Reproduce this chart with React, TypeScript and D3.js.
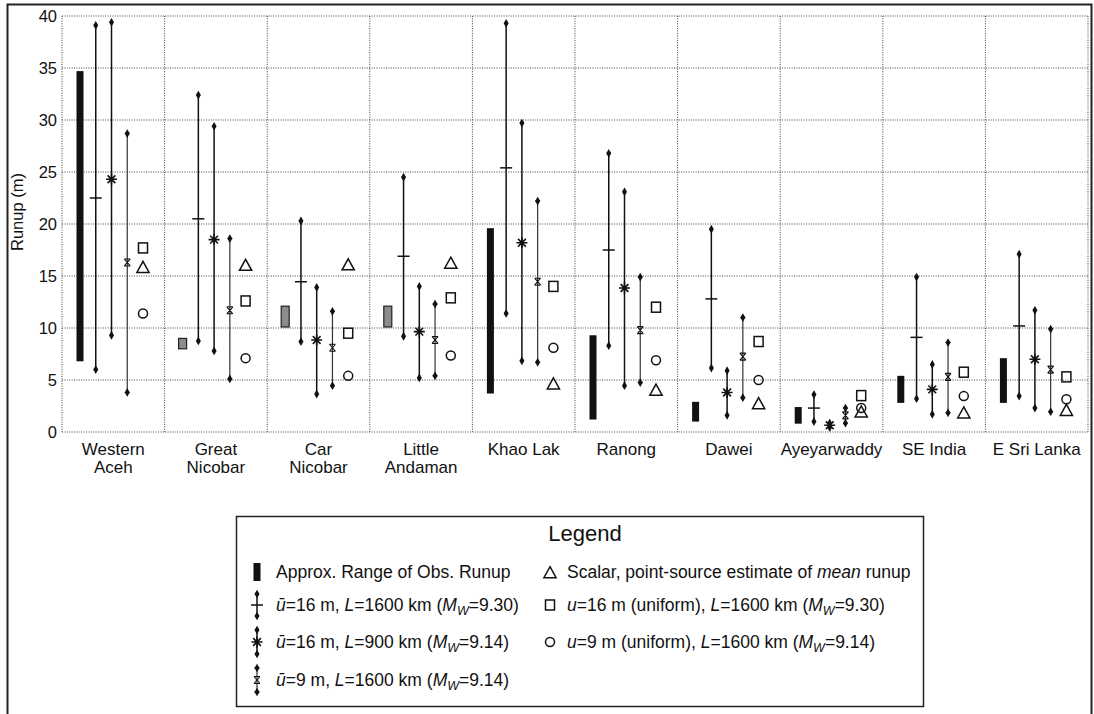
import React from 'react';
import * as d3 from 'd3';

const CATEGORIES = [
  'Western Aceh', 'Great Nicobar', 'Car Nicobar', 'Little Andaman', 'Khao Lak',
  'Ranong', 'Dawei', 'Ayeyarwaddy', 'SE India', 'E Sri Lanka',
];
const LABEL_LINES = [
  ['Western', 'Aceh'], ['Great', 'Nicobar'], ['Car', 'Nicobar'], ['Little', 'Andaman'],
  ['Khao Lak'], ['Ranong'], ['Dawei'], ['Ayeyarwaddy'], ['SE India'], ['E Sri Lanka'],
];
// observed runup is sparse (grey bar) for these
const GREY_OBS = ['Great Nicobar', 'Car Nicobar', 'Little Andaman'];

const OBS_LOW = [6.8, 8.0, 10.1, 10.1, 3.7, 1.2, 1.0, 0.8, 2.8, 2.8];
const OBS_HIGH = [34.7, 9.0, 12.1, 12.1, 19.6, 9.3, 2.9, 2.4, 5.4, 7.1];

// u=16 m, L=1600 km
const S1_LOW = [6.0, 8.75, 8.7, 9.2, 11.4, 8.3, 6.15, 1.0, 3.2, 3.45];
const S1_MEAN = [22.5, 20.5, 14.45, 16.9, 25.4, 17.5, 12.8, 2.3, 9.1, 10.2];
const S1_HIGH = [39.1, 32.4, 20.3, 24.5, 39.3, 26.8, 19.5, 3.6, 14.9, 17.1];

// u=16 m, L=900 km
const S2_LOW = [9.3, 7.8, 3.65, 5.2, 6.85, 4.45, 1.6, 0.45, 1.7, 2.3];
const S2_MEAN = [24.3, 18.5, 8.85, 9.65, 18.2, 13.85, 3.8, 0.65, 4.1, 7.0];
const S2_HIGH = [39.4, 29.4, 13.9, 14.0, 29.7, 23.1, 5.9, 0.85, 6.5, 11.7];

// u=9 m, L=1600 km
const S3_LOW = [3.8, 5.1, 4.45, 5.4, 6.7, 4.75, 3.3, 0.85, 1.85, 1.95];
const S3_MEAN = [16.3, 11.7, 8.1, 8.85, 14.45, 9.8, 7.25, 1.6, 5.3, 6.0];
const S3_HIGH = [28.7, 18.6, 11.6, 12.3, 22.2, 14.9, 11.0, 2.3, 8.6, 9.9];

const SCALAR = [15.8, 16.0, 16.05, 16.2, 4.6, 4.0, 2.7, 1.9, 1.8, 2.05];
const UNIFORM16 = [17.7, 12.6, 9.5, 12.9, 14.0, 12.0, 8.7, 3.5, 5.75, 5.3];
const UNIFORM9 = [11.4, 7.1, 5.4, 7.35, 8.1, 6.9, 5.0, 2.3, 3.45, 3.15];

const Y_TICKS = [0, 5, 10, 15, 20, 25, 30, 35, 40];

const FONT = '"Liberation Sans", Arial, Helvetica, sans-serif';
const INK = '#111';

const x = d3.scaleBand<string>().domain(CATEGORIES).range([62, 1088]);
const sub = d3.scalePoint<string>().domain(['obs', 's1', 's2', 's3', 'pts']).range([18, 81]);
const y = d3.scaleLinear().domain([0, 40]).range([432, 16]);

const tip = d3.symbol().type(d3.symbolDiamond).size(22)() as string;

const starPath = (r: number) => {
  const p = d3.path();
  for (let k = 0; k < 4; k++) {
    const a = (k * Math.PI) / 4;
    p.moveTo(-r * Math.cos(a), -r * Math.sin(a));
    p.lineTo(r * Math.cos(a), r * Math.sin(a));
  }
  return p.toString();
};
const triPath = (s: number) => `M0,${-s * 0.6}L${s * 0.58},${s * 0.45}L${-s * 0.58},${s * 0.45}Z`;
const bowtie = 'M-3,-3.5H3M-3,3.5H3M-3,-3.5L3,3.5M3,-3.5L-3,3.5';

function Range({ cx, y0, y1, kind }: { cx: number; y0: number; y1: number; kind: 's1' | 's2' | 's3' }) {
  return (
    <g>
      <line x1={cx} x2={cx} y1={y0} y2={y1} stroke={kind === 's3' ? '#333' : INK} strokeWidth={kind === 's3' ? 1.2 : 1.5} />
      {kind === 's3' && (
        <path d={`M${cx - 2.5},${y0}H${cx + 2.5}M${cx - 2.5},${y1}H${cx + 2.5}`} stroke={INK} strokeWidth={1} />
      )}
      <path d={tip} transform={`translate(${cx},${y0})`} fill={INK} />
      <path d={tip} transform={`translate(${cx},${y1})`} fill={INK} />
    </g>
  );
}

function MeanMark({ cx, cy, kind }: { cx: number; cy: number; kind: 's1' | 's2' | 's3' }) {
  if (kind === 's1') return <line x1={cx - 6} x2={cx + 6} y1={cy} y2={cy} stroke={INK} strokeWidth={1.5} />;
  if (kind === 's2') return <path d={starPath(5.5)} transform={`translate(${cx},${cy})`} stroke={INK} strokeWidth={1.6} fill="none" />;
  return <path d={bowtie} transform={`translate(${cx},${cy})`} stroke={INK} strokeWidth={1.1} fill="none" />;
}

function Glyph({ kind, cx, cy }: { kind: 'tri' | 'sq' | 'circ'; cx: number; cy: number }) {
  if (kind === 'tri') return <path d={triPath(10.5)} transform={`translate(${cx},${cy})`} fill="none" stroke={INK} strokeWidth={1.5} />;
  if (kind === 'sq') return <rect x={cx - 4.5} y={cy - 5} width={9} height={10} fill="none" stroke={INK} strokeWidth={1.5} />;
  return <circle cx={cx} cy={cy} r={4.5} fill="none" stroke={INK} strokeWidth={1.5} />;
}

const I = ({ children }: { children: React.ReactNode }) => <tspan fontStyle="italic">{children}</tspan>;
const Mw = ({ v }: { v: string }) => (
  <>
    (<I>M</I><tspan fontStyle="italic" fontSize={12.5} dy={4}>W</tspan><tspan dy={-4}>={v})</tspan>
  </>
);

export default function App() {
  const series: Array<{ kind: 's1' | 's2' | 's3'; lo: number[]; mean: number[]; hi: number[] }> = [
    { kind: 's1', lo: S1_LOW, mean: S1_MEAN, hi: S1_HIGH },
    { kind: 's2', lo: S2_LOW, mean: S2_MEAN, hi: S2_HIGH },
    { kind: 's3', lo: S3_LOW, mean: S3_MEAN, hi: S3_HIGH },
  ];
  const grid = '1,1.4';
  const bw = x.bandwidth();

  const rowY = [572, 605, 642, 680];
  const lx = 257, ltx = 276, rx = 550, rtx = 567;
  const LF = 17.5;

  return (
    <svg width={1094} height={714} style={{ position: 'absolute', left: 0, top: 0, background: '#fff' }} fontFamily={FONT}>
      <rect x={0} y={0} width={1094} height={714} fill="#fff" />
      {/* figure frame */}
      <path d="M7.5,714V4.5H1091.5V714" fill="none" stroke="#222" strokeWidth={2} />

      {/* grid */}
      {Y_TICKS.map((t) => (
        <line key={t} x1={62} x2={1088} y1={y(t)} y2={y(t)} stroke="#444" strokeWidth={1} strokeDasharray={grid} />
      ))}
      {CATEGORIES.map((c) => (
        <line key={c} x1={x(c)!} x2={x(c)!} y1={y(40)} y2={y(0)} stroke="#444" strokeWidth={1} strokeDasharray={grid} />
      ))}
      <line x1={1088} x2={1088} y1={y(40)} y2={y(0)} stroke="#444" strokeWidth={1} strokeDasharray={grid} />

      {/* y axis labels */}
      {Y_TICKS.map((t) => (
        <text key={t} x={57} y={y(t)} dy="0.36em" textAnchor="end" fontSize={16.5} fill={INK}>{t}</text>
      ))}
      <text transform={`translate(17,${212}) rotate(-90)`} textAnchor="middle" dy="0.36em" fontSize={16.5} fill={INK}>Runup (m)</text>

      {/* category labels */}
      {CATEGORIES.map((c, i) => (
        <text key={c} x={x(c)! + bw / 2} y={455} textAnchor="middle" fontSize={17} fill={INK}>
          {LABEL_LINES[i].map((l, k) => (
            <tspan key={k} x={x(c)! + bw / 2} dy={k === 0 ? 0 : 18}>{l}</tspan>
          ))}
        </text>
      ))}

      {/* marks */}
      {CATEGORIES.map((c, i) => {
        const x0 = x(c)!;
        const grey = GREY_OBS.includes(c);
        const ox = x0 + sub('obs')!;
        const px = x0 + sub('pts')!;
        return (
          <g key={c}>
            <rect
              x={ox - (grey ? 4 : 3.5)}
              y={y(OBS_HIGH[i])}
              width={grey ? 8 : 7}
              height={y(OBS_LOW[i]) - y(OBS_HIGH[i])}
              fill={grey ? '#8c8c8c' : INK}
              stroke={grey ? '#222' : 'none'}
              strokeWidth={1.2}
            />
            {series.map((s) => {
              const cx = x0 + sub(s.kind)!;
              return (
                <g key={s.kind}>
                  <Range cx={cx} y0={y(s.hi[i])} y1={y(s.lo[i])} kind={s.kind} />
                  <MeanMark cx={cx} cy={y(s.mean[i])} kind={s.kind} />
                </g>
              );
            })}
            <Glyph kind="tri" cx={px} cy={y(SCALAR[i])} />
            <Glyph kind="sq" cx={px} cy={y(UNIFORM16[i])} />
            <Glyph kind="circ" cx={px} cy={y(UNIFORM9[i])} />
          </g>
        );
      })}

      {/* legend */}
      <rect x={236.5} y={516.5} width={687} height={190} fill="#fff" stroke="#222" strokeWidth={1.5} />
      <text x={585} y={541} textAnchor="middle" fontSize={22} fill={INK}>Legend</text>

      <rect x={lx - 3.5} y={rowY[0] - 9} width={7} height={18} fill={INK} />
      <text x={ltx} y={rowY[0]} dy="0.36em" fontSize={LF} fill={INK}>Approx. Range of Obs. Runup</text>

      <Range cx={lx} y0={rowY[1] - 11} y1={rowY[1] + 11} kind="s1" />
      <MeanMark cx={lx} cy={rowY[1]} kind="s1" />
      <text x={ltx} y={rowY[1]} dy="0.36em" fontSize={LF} fill={INK}>
        <I>ū</I>=16 m, <I>L</I>=1600 km <Mw v="9.30" />
      </text>

      <Range cx={lx} y0={rowY[2] - 12} y1={rowY[2] + 12} kind="s2" />
      <MeanMark cx={lx} cy={rowY[2]} kind="s2" />
      <text x={ltx} y={rowY[2]} dy="0.36em" fontSize={LF} fill={INK}>
        <I>ū</I>=16 m, <I>L</I>=900 km <Mw v="9.14" />
      </text>

      <Range cx={lx} y0={rowY[3] - 12} y1={rowY[3] + 12} kind="s3" />
      <MeanMark cx={lx} cy={rowY[3]} kind="s3" />
      <text x={ltx} y={rowY[3]} dy="0.36em" fontSize={LF} fill={INK}>
        <I>ū</I>=9 m, <I>L</I>=1600 km <Mw v="9.14" />
      </text>

      <Glyph kind="tri" cx={rx} cy={rowY[0] + 1} />
      <text x={rtx} y={rowY[0]} dy="0.36em" fontSize={LF} fill={INK}>
        Scalar, point-source estimate of <I>mean</I> runup
      </text>
      <Glyph kind="sq" cx={rx} cy={rowY[1]} />
      <text x={rtx} y={rowY[1]} dy="0.36em" fontSize={LF} fill={INK}>
        <I>u</I>=16 m (uniform), <I>L</I>=1600 km <Mw v="9.30" />
      </text>
      <Glyph kind="circ" cx={rx} cy={rowY[2]} />
      <text x={rtx} y={rowY[2]} dy="0.36em" fontSize={LF} fill={INK}>
        <I>u</I>=9 m (uniform), <I>L</I>=1600 km <Mw v="9.14" />
      </text>
    </svg>
  );
}
